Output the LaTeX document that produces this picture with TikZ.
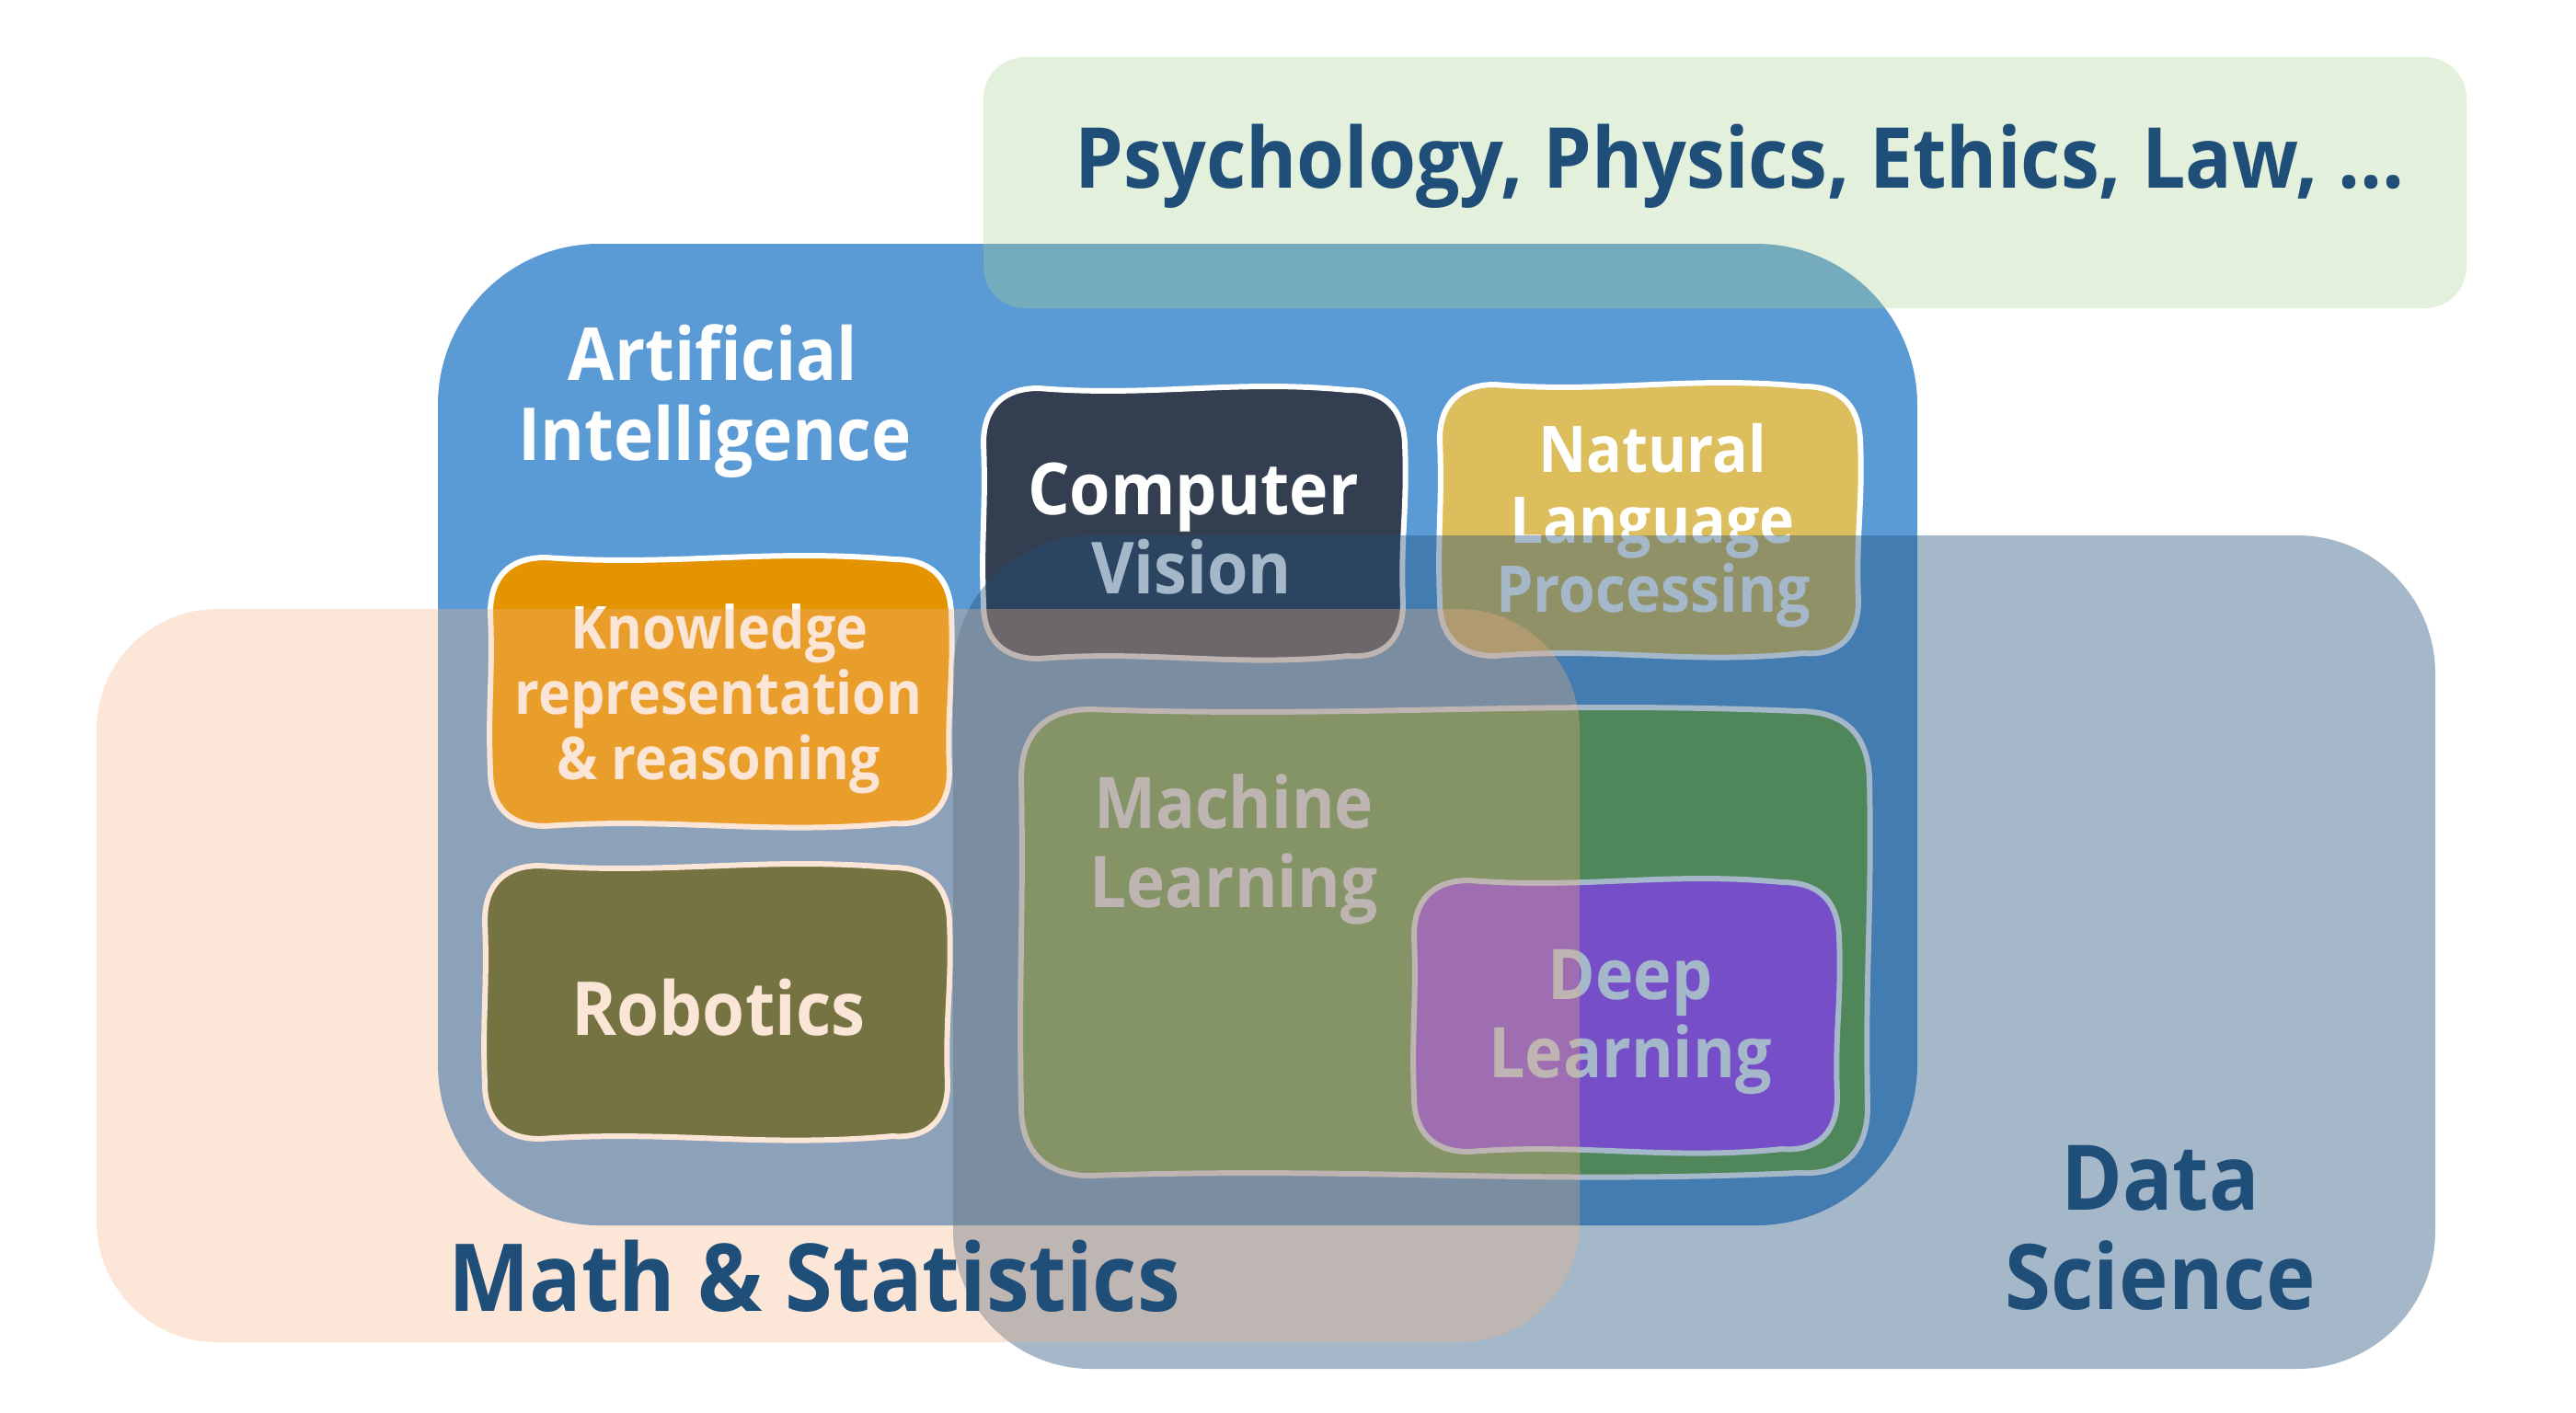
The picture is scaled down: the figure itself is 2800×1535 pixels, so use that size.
\documentclass[tikz,border=0pt]{standalone}
\usepackage{fontspec}
\setmainfont{Open Sans}[FakeStretch=0.92]
\definecolor{aiblue}{RGB}{91,155,213}
\definecolor{psygreen}{RGB}{169,209,142}
\definecolor{dsblue}{RGB}{31,78,121}
\definecolor{mathpeach}{RGB}{244,177,131}
\definecolor{cvdark}{RGB}{51,63,80}
\definecolor{nlpgold}{RGB}{220,190,92}
\definecolor{krorange}{RGB}{228,148,0}
\definecolor{roboolive}{RGB}{56,87,35}
\definecolor{mlgreen}{RGB}{112,173,71}
\definecolor{dlpurple}{RGB}{176,81,253}
\definecolor{labelblue}{RGB}{31,78,121}
\newcommand{\fsz}[1]{\bfseries\fontsize{#1}{#1}\selectfont}
% wobbly hand-drawn rounded box: x1 y1 x2 y2 fill radius
\newcommand{\wobblebox}[6]{%
  \path[boxline, fill=#5]
   (#1,{#2+#6}) .. controls (#1,{#2+0.35*#6}) and ({#1+0.35*#6},#2) .. ({#1+#6},#2)
   .. controls ({#1+0.4*(#3-#1)},{#2+10}) and ({#3-0.4*(#3-#1)},{#2-10}) .. ({#3-#6},{#2+2})
   .. controls ({#3-0.35*#6},{#2+2}) and (#3,{#2+0.35*#6}) .. ({#3+2},{#2+#6})
   .. controls ({#3+5},{#2+0.45*(#4-#2)}) and ({#3-3},{#4-0.45*(#4-#2)}) .. (#3,{#4-#6})
   .. controls (#3,{#4-0.35*#6}) and ({#3-0.35*#6},#4) .. ({#3-#6},{#4-3})
   .. controls ({#3-0.4*(#3-#1)},{#4+10}) and ({#1+0.4*(#3-#1)},{#4-10}) .. ({#1+#6},#4)
   .. controls ({#1+0.35*#6},#4) and (#1,{#4-0.35*#6}) .. (#1,{#4-#6})
   .. controls ({#1-3},{#4-0.45*(#4-#2)}) and ({#1+3},{#2+0.45*(#4-#2)}) .. cycle;
}
\begin{document}
\begin{tikzpicture}[x=0.01cm,y=-0.01cm,
  boxline/.style={draw=white, line width=1.7pt},
  boxtext/.style={text=white, anchor=base, inner sep=0pt},
  biglabel/.style={text=labelblue, anchor=base, inner sep=0pt}]
\useasboundingbox (0,0) rectangle (2800,1535);

% Artificial Intelligence region
\fill[aiblue, rounded corners=1.75cm] (476,265) rectangle (2084,1332);
\node[boxtext, font=\fsz{22.6}] (ai1) at (775,413) {Artificial};
\node[boxtext, font=\fsz{22.6}] (ai2) at (777,500) {Intelligence};

% sub-fields
\wobblebox{1069}{422}{1525}{716}{cvdark}{60}
\node[boxtext, font=\fsz{22.2}] (cv1) at (1297,559) {Computer};
\node[boxtext, font=\fsz{22.2}] (cv2) at (1295,645) {Vision};

\wobblebox{1565}{418}{2020}{713}{nlpgold}{60}
\node[boxtext, font=\fsz{19.9}] (nlp1) at (1796,513) {Natural};
\node[boxtext, font=\fsz{19.9}] (nlp2) at (1796,590) {Language};
\node[boxtext, font=\fsz{19.9}] (nlp3) at (1797,665) {Processing};

\wobblebox{533}{606}{1032}{898}{krorange}{60}
\node[boxtext, font=\fsz{18.3}] (kr1) at (782,705) {Knowledge};
\node[boxtext, font=\fsz{18.3}] (kr2) at (781,776) {representation};
\node[boxtext, font=\fsz{18.3}] (kr3) at (781,847) {\& reasoning};

\wobblebox{527}{941}{1030}{1238}{roboolive}{60}
\node[boxtext, font=\fsz{23}] (rob) at (781,1125) {Robotics};

\wobblebox{1110}{771}{2030}{1278}{mlgreen}{75}
\node[boxtext, font=\fsz{22}] (ml1) at (1341,900) {Machine};
\node[boxtext, font=\fsz{22}] (ml2) at (1341,986) {Learning};

\wobblebox{1537}{957}{1997}{1252}{dlpurple}{60}
\node[boxtext, font=\fsz{21.6}] (dl1) at (1772,1086) {Deep};
\node[boxtext, font=\fsz{21.6}] (dl2) at (1772,1171) {Learning};

% translucent overlays
\fill[psygreen, fill opacity=0.32, rounded corners=0.45cm] (1069,62) rectangle (2681,335);
\fill[dsblue, fill opacity=0.40, rounded corners=1.5cm] (1036,582) rectangle (2647,1488);
\fill[mathpeach, fill opacity=0.32, rounded corners=1.31cm] (105,662) rectangle (1717,1459);

% region labels
\node[biglabel, font=\fsz{26}] (psy) at (1891,204) {Psychology, Physics, Ethics, Law, ...};
\node[biglabel, font=\fsz{29}] (math) at (885,1425) {Math \& Statistics};
\node[biglabel, font=\fsz{28}] (ds1) at (2348,1315) {Data};
\node[biglabel, font=\fsz{28}] (ds2) at (2348,1423) {Science};
\end{tikzpicture}
\end{document}
